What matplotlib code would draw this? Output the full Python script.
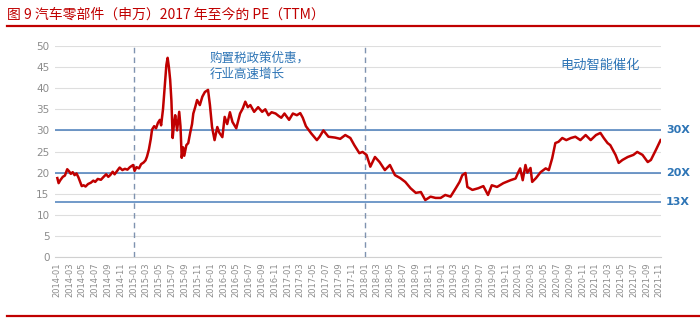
import pandas as pd
import matplotlib.pyplot as plt
import matplotlib.dates as mdates
from matplotlib.lines import Line2D

plt.rcParams['font.family'] = ['Noto Sans CJK SC', 'DejaVu Sans']

# ----------------------- Data ---------------------------
dates = [
    "2014-01-02", "2014-01-08", "2014-01-16", "2014-01-28", "2014-02-07", "2014-02-18", "2014-02-27",
    "2014-03-07", "2014-03-16", "2014-03-25", "2014-04-03", "2014-04-12", "2014-04-28", "2014-05-07",
    "2014-05-16", "2014-05-28", "2014-06-10", "2014-06-22", "2014-07-01", "2014-07-13", "2014-07-28",
    "2014-08-10", "2014-08-22", "2014-09-01", "2014-09-10", "2014-09-22", "2014-10-01", "2014-10-13",
    "2014-10-25", "2014-11-07", "2014-11-19", "2014-12-01", "2014-12-13", "2014-12-28", "2015-01-04",
    "2015-01-13", "2015-01-25", "2015-02-04", "2015-02-16", "2015-02-25", "2015-03-04", "2015-03-13",
    "2015-03-22", "2015-03-28", "2015-04-07", "2015-04-16", "2015-04-25", "2015-05-04", "2015-05-10",
    "2015-05-19", "2015-05-28", "2015-06-04", "2015-06-10", "2015-06-16", "2015-06-22", "2015-06-28",
    "2015-07-04", "2015-07-10", "2015-07-16", "2015-07-25", "2015-08-04", "2015-08-10", "2015-08-16",
    "2015-08-22", "2015-08-28", "2015-09-07", "2015-09-16", "2015-09-25", "2015-10-04", "2015-10-10",
    "2015-10-19", "2015-10-28", "2015-11-10", "2015-11-22", "2015-12-04", "2015-12-19", "2015-12-28",
    "2016-01-07", "2016-01-19", "2016-02-01", "2016-02-10", "2016-02-25", "2016-03-07", "2016-03-19",
    "2016-04-01", "2016-04-13", "2016-05-01", "2016-05-19", "2016-06-01", "2016-06-13", "2016-06-25",
    "2016-07-07", "2016-07-25", "2016-08-13", "2016-09-01", "2016-09-16", "2016-10-01", "2016-10-16",
    "2016-11-04", "2016-11-19", "2016-12-01", "2016-12-16", "2017-01-07", "2017-01-25", "2017-02-13",
    "2017-03-01", "2017-03-13", "2017-03-28", "2017-04-22", "2017-05-19", "2017-06-01", "2017-06-19",
    "2017-07-13", "2017-08-13", "2017-09-07", "2017-10-01", "2017-10-25", "2017-11-13", "2017-12-07",
    "2017-12-22", "2018-01-10", "2018-01-28", "2018-02-19", "2018-03-13", "2018-04-07", "2018-05-01",
    "2018-05-25", "2018-06-19", "2018-07-13", "2018-08-07", "2018-09-01", "2018-09-25", "2018-10-16",
    "2018-11-10", "2018-12-04", "2018-12-28", "2019-01-19", "2019-02-13", "2019-03-10", "2019-03-28",
    "2019-04-10", "2019-04-25", "2019-05-04", "2019-05-28", "2019-06-25", "2019-07-19", "2019-08-10",
    "2019-08-28", "2019-09-22", "2019-10-22", "2019-11-25", "2019-12-19", "2020-01-01", "2020-01-10",
    "2020-01-22", "2020-02-04", "2020-02-13", "2020-02-28", "2020-03-07", "2020-03-25", "2020-04-16",
    "2020-05-10", "2020-05-25", "2020-06-10", "2020-06-25", "2020-07-10", "2020-07-28", "2020-08-16",
    "2020-09-07", "2020-09-28", "2020-10-22", "2020-11-16", "2020-12-10", "2021-01-04", "2021-01-25",
    "2021-02-10", "2021-02-28", "2021-03-13", "2021-04-07", "2021-04-22", "2021-05-10", "2021-06-04",
    "2021-07-01", "2021-07-19", "2021-08-13", "2021-09-07", "2021-09-22", "2021-10-16", "2021-11-07",
]
pe_ttm = [
    18.7, 17.5, 18.2, 19.0, 19.3, 20.8, 20.3,
    19.7, 20.1, 19.4, 19.8, 18.9, 16.8, 17.0,
    16.7, 17.3, 17.6, 18.1, 17.8, 18.5, 18.3,
    19.0, 19.6, 19.0, 19.4, 20.2, 19.6, 20.4,
    21.2, 20.6, 20.9, 20.7, 21.3, 21.8, 20.4,
    21.3, 21.0, 22.0, 22.4, 22.9, 23.8, 25.5,
    28.0, 30.2, 31.0, 30.5, 31.8, 32.5, 31.2,
    35.0, 41.0, 45.5, 47.2, 45.0, 42.0, 37.0,
    28.2, 31.5, 33.6, 30.0, 34.4, 31.0, 23.5,
    26.0, 24.0, 26.5, 27.0, 29.4, 31.5, 34.0,
    35.5, 37.2, 36.0, 38.0, 39.1, 39.6, 36.0,
    30.8, 27.7, 30.8, 29.5, 28.4, 33.2, 31.5,
    34.3, 32.0, 30.5, 34.0, 35.2, 36.8, 35.5,
    36.0, 34.4, 35.5, 34.4, 35.0, 33.6, 34.3,
    34.0, 33.4, 33.0, 34.0, 32.5, 34.0, 33.6,
    34.1, 33.0, 31.0, 29.3, 27.7, 28.5, 30.0,
    28.5, 28.3, 28.0, 28.9, 28.2, 26.5, 24.6,
    24.9, 24.2, 21.4, 23.7, 22.5, 20.6, 21.8,
    19.4, 18.7, 17.8, 16.3, 15.2, 15.4, 13.5,
    14.3, 14.0, 14.0, 14.7, 14.3, 16.3, 17.8,
    19.4, 19.9, 16.6, 15.9, 16.3, 16.8, 14.7,
    17.0, 16.6, 17.5, 18.2, 18.6, 20.1, 21.0,
    18.2, 21.8, 20.0, 21.1, 17.8, 18.7, 20.1,
    21.0, 20.6, 23.4, 27.0, 27.3, 28.2, 27.7,
    28.2, 28.5, 27.7, 28.9, 27.7, 28.9, 29.4,
    28.2, 27.0, 26.5, 24.2, 22.3, 23.0, 23.7,
    24.2, 24.9, 24.2, 22.5, 23.0, 25.4, 27.7,
]

ref_levels = [30, 20, 13]
ref_labels = ["30X", "20X", "13X"]
event_dates = ["2015-01-01", "2018-01-01"]

dates = pd.to_datetime(dates)

RED = "#c00000"
BLUE = "#4a7ebb"
TEXT_BLUE = "#2e75b6"

# ----------------------- Figure ---------------------------
fig = plt.figure(figsize=(7, 3.23), dpi=100)
ax = fig.add_axes([0.0786, 0.2043, 0.866, 0.6533])

ax.plot(dates, pe_ttm, color=RED, linewidth=1.8, zorder=4)

for lvl in ref_levels:
    ax.axhline(lvl, color=BLUE, linewidth=1.1, zorder=3)
for d in event_dates:
    ax.axvline(pd.Timestamp(d), color="#7f93b0", linewidth=1.0, linestyle=(0, (4, 3)), zorder=3)

ax.set_ylim(0, 50)
ax.set_xlim(pd.Timestamp("2013-12-22"), pd.Timestamp("2021-11-10"))
ax.set_yticks(range(0, 51, 5))
ax.grid(axis="y", color="#dedede", linewidth=0.8)
ax.set_axisbelow(True)

ax.xaxis.set_major_locator(mdates.MonthLocator(bymonth=[1, 3, 5, 7, 9, 11]))
ax.xaxis.set_major_formatter(mdates.DateFormatter("%Y-%m"))
plt.setp(ax.get_xticklabels(), rotation=90, fontsize=6, color="#8c8c8c", family="DejaVu Sans")
plt.setp(ax.get_yticklabels(), fontsize=7.5, color="#8c8c8c", family="DejaVu Sans")
ax.tick_params(axis="both", length=0, pad=4)

for s in ["top", "right", "left"]:
    ax.spines[s].set_visible(False)
ax.spines["bottom"].set_color("#d0d0d0")

# Level labels on the right
for lvl, lab in zip(ref_levels, ref_labels):
    ax.text(1.008, lvl, lab, transform=ax.get_yaxis_transform(), fontsize=8,
            fontweight="bold", color=TEXT_BLUE, va="center", ha="left", family="DejaVu Sans")

# Annotations
ax.text(pd.Timestamp("2015-12-25"), 45.2, "购置税政策优惠，\n行业高速增长", fontsize=9,
        color=TEXT_BLUE, va="center", ha="left", linespacing=1.4)
ax.text(pd.Timestamp("2020-07-20"), 45.5, "电动智能催化", fontsize=9.5,
        color=TEXT_BLUE, va="center", ha="left")

# Title and rules
fig.text(0.01, 0.955, "图 9 汽车零部件（申万）2017 年至今的 PE（TTM）", fontsize=10,
         color=RED, va="center", ha="left")
fig.add_artist(Line2D([0.01, 1.0], [0.918, 0.918], color=RED, linewidth=1.6))
fig.add_artist(Line2D([0.01, 1.0], [0.022, 0.022], color=RED, linewidth=1.6))

plt.savefig("out.png", dpi=100)
